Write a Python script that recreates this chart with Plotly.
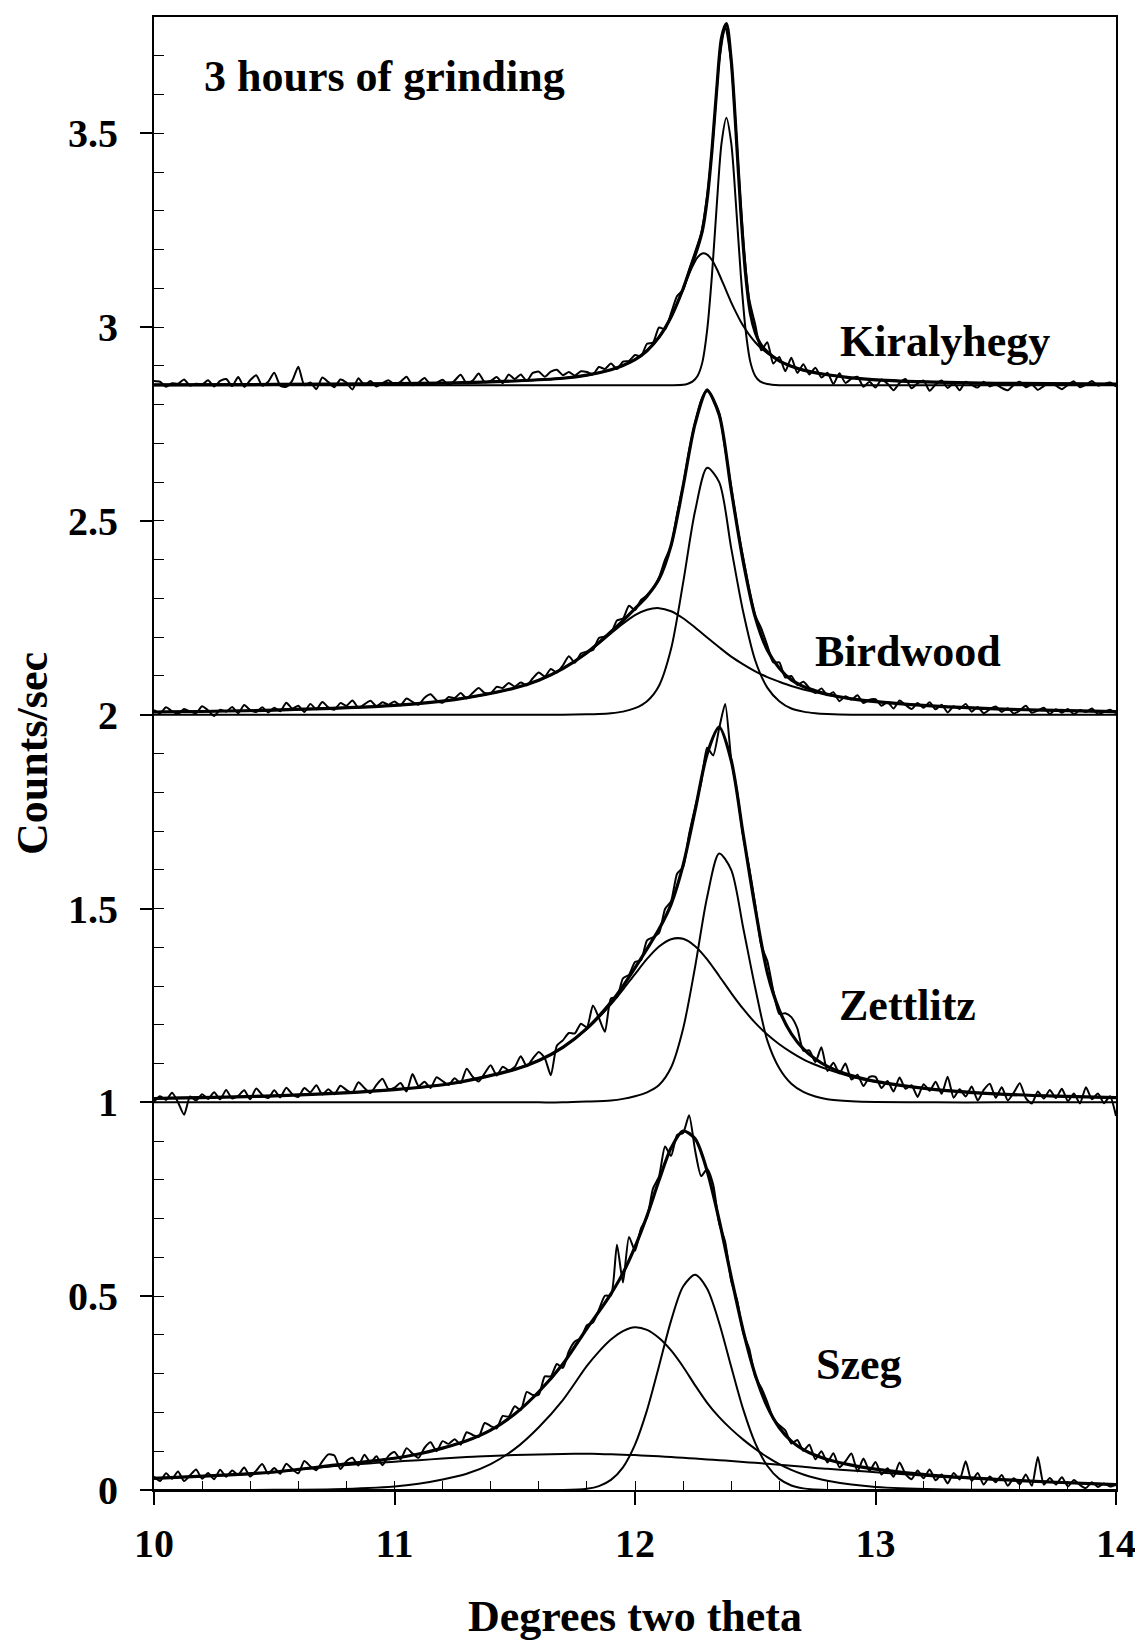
import plotly.graph_objects as go

# ---------------- measured (noisy) data, x step 0.025 deg ----------------
DATA_X = [round(10 + 0.025 * i, 3) for i in range(161)]

KIRALYHEGY_DATA = [
    2.861, 2.859, 2.846, 2.855, 2.854, 2.865, 2.849, 2.854, 2.852, 2.863,
    2.847, 2.861, 2.866, 2.848, 2.871, 2.846, 2.863, 2.876, 2.849, 2.859,
    2.882, 2.849, 2.846, 2.862, 2.898, 2.850, 2.857, 2.840, 2.870, 2.858,
    2.845, 2.865, 2.857, 2.839, 2.868, 2.850, 2.861, 2.847, 2.855, 2.863,
    2.852, 2.859, 2.872, 2.850, 2.857, 2.869, 2.852, 2.856, 2.864, 2.851,
    2.862, 2.877, 2.855, 2.862, 2.880, 2.858, 2.861, 2.871, 2.855, 2.878,
    2.866, 2.878, 2.861, 2.882, 2.885, 2.872, 2.885, 2.890, 2.876, 2.884,
    2.875, 2.886, 2.884, 2.878, 2.897, 2.892, 2.906, 2.892, 2.911, 2.913,
    2.928, 2.925, 2.957, 2.960, 2.999, 2.994, 3.036, 3.080, 3.096, 3.148,
    3.194, 3.242, 3.339, 3.491, 3.684, 3.776, 3.684, 3.458, 3.225, 3.072,
    3.006, 2.940, 2.961, 2.906, 2.923, 2.886, 2.921, 2.882, 2.904, 2.878,
    2.895, 2.870, 2.882, 2.853, 2.881, 2.856, 2.867, 2.872, 2.846, 2.859,
    2.844, 2.865, 2.854, 2.837, 2.856, 2.866, 2.842, 2.855, 2.862, 2.836,
    2.852, 2.862, 2.843, 2.856, 2.837, 2.859, 2.851, 2.844, 2.859, 2.847,
    2.852, 2.843, 2.837, 2.851, 2.859, 2.845, 2.852, 2.838, 2.848, 2.856,
    2.849, 2.840, 2.851, 2.860, 2.845, 2.851, 2.861, 2.849, 2.853, 2.857, 2.847,
]

BIRDWOOD_DATA = [
    2.012, 2.004, 2.019, 2.009, 2.002, 2.015, 2.008, 2.004, 2.022, 2.011,
    1.997, 2.013, 2.008, 2.020, 2.004, 2.025, 2.012, 2.007, 2.019, 2.006,
    2.018, 2.009, 2.031, 2.016, 2.023, 2.007, 2.028, 2.014, 2.033, 2.019,
    2.013, 2.030, 2.023, 2.037, 2.018, 2.027, 2.036, 2.022, 2.032, 2.026,
    2.034, 2.024, 2.042, 2.033, 2.026, 2.044, 2.053, 2.037, 2.031, 2.046,
    2.043, 2.056, 2.042, 2.056, 2.069, 2.056, 2.055, 2.072, 2.069, 2.082,
    2.073, 2.083, 2.076, 2.094, 2.109, 2.099, 2.118, 2.109, 2.127, 2.151,
    2.134, 2.158, 2.163, 2.167, 2.198, 2.202, 2.210, 2.243, 2.248, 2.281,
    2.270, 2.296, 2.308, 2.325, 2.354, 2.400, 2.435, 2.518, 2.592, 2.682,
    2.754, 2.811, 2.840, 2.814, 2.779, 2.686, 2.588, 2.488, 2.405, 2.323,
    2.256, 2.223, 2.179, 2.135, 2.135, 2.096, 2.100, 2.077, 2.085, 2.069,
    2.056, 2.068, 2.050, 2.058, 2.035, 2.048, 2.039, 2.050, 2.030, 2.039,
    2.040, 2.023, 2.033, 2.016, 2.037, 2.025, 2.015, 2.030, 2.018, 2.032,
    2.014, 2.026, 2.006, 2.022, 2.015, 2.028, 2.008, 2.020, 2.004, 2.014,
    2.021, 2.007, 2.017, 2.003, 2.011, 2.023, 2.005, 2.011, 2.018, 2.002,
    2.014, 2.005, 2.015, 2.001, 2.012, 2.007, 2.016, 2.001, 2.007, 2.013, 2.004,
]

ZETTLITZ_DATA = [
    1.002, 1.016, 1.006, 1.025, 1.000, 0.968, 1.015, 1.005, 1.021, 1.009,
    1.026, 1.008, 1.032, 1.010, 1.017, 1.031, 1.008, 1.036, 1.019, 1.011,
    1.031, 1.013, 1.038, 1.021, 1.014, 1.037, 1.026, 1.044, 1.020, 1.034,
    1.021, 1.043, 1.032, 1.025, 1.052, 1.037, 1.024, 1.045, 1.061, 1.034,
    1.038, 1.050, 1.028, 1.073, 1.042, 1.053, 1.037, 1.065, 1.055, 1.045,
    1.062, 1.050, 1.087, 1.066, 1.054, 1.075, 1.096, 1.069, 1.092, 1.083,
    1.091, 1.119, 1.093, 1.113, 1.130, 1.114, 1.070, 1.146, 1.160, 1.179,
    1.178, 1.203, 1.194, 1.250, 1.218, 1.182, 1.268, 1.271, 1.320, 1.329,
    1.362, 1.367, 1.418, 1.426, 1.437, 1.499, 1.519, 1.590, 1.607, 1.692,
    1.761, 1.825, 1.915, 1.895, 1.965, 2.028, 1.885, 1.800, 1.685, 1.605,
    1.510, 1.405, 1.365, 1.288, 1.228, 1.230, 1.220, 1.191, 1.133, 1.134,
    1.104, 1.142, 1.081, 1.102, 1.075, 1.100, 1.059, 1.071, 1.042, 1.066,
    1.066, 1.037, 1.055, 1.028, 1.064, 1.035, 1.044, 1.014, 1.047, 1.030,
    1.053, 1.022, 1.066, 1.012, 1.034, 1.015, 1.041, 1.005, 1.032, 1.048,
    1.012, 1.039, 1.005, 1.025, 1.049, 1.011, 0.997, 1.028, 1.010, 1.032,
    1.011, 1.035, 1.003, 1.023, 0.997, 1.039, 1.008, 1.023, 0.998, 1.016, 0.965,
]

SZEG_DATA = [
    0.035, 0.023, 0.043, 0.029, 0.048, 0.023, 0.038, 0.053, 0.029, 0.044,
    0.028, 0.052, 0.034, 0.050, 0.039, 0.058, 0.035, 0.050, 0.067, 0.042,
    0.057, 0.042, 0.068, 0.054, 0.043, 0.075, 0.061, 0.051, 0.074, 0.092,
    0.089, 0.054, 0.074, 0.083, 0.063, 0.091, 0.071, 0.087, 0.064, 0.088,
    0.098, 0.079, 0.108, 0.094, 0.083, 0.109, 0.123, 0.100, 0.126, 0.119,
    0.131, 0.117, 0.149, 0.142, 0.137, 0.173, 0.165, 0.159, 0.191, 0.189,
    0.216, 0.206, 0.253, 0.245, 0.246, 0.293, 0.293, 0.325, 0.315, 0.358,
    0.383, 0.392, 0.425, 0.432, 0.465, 0.501, 0.502, 0.633, 0.535, 0.653,
    0.617, 0.675, 0.703, 0.778, 0.809, 0.886, 0.862, 0.916, 0.921, 0.967,
    0.876, 0.810, 0.828, 0.788, 0.688, 0.640, 0.540, 0.488, 0.406, 0.364,
    0.292, 0.264, 0.227, 0.184, 0.167, 0.154, 0.120, 0.129, 0.101, 0.117,
    0.079, 0.100, 0.071, 0.095, 0.059, 0.074, 0.094, 0.048, 0.081, 0.049,
    0.072, 0.040, 0.056, 0.034, 0.071, 0.041, 0.028, 0.050, 0.030, 0.053,
    0.025, 0.040, 0.017, 0.044, 0.027, 0.074, 0.023, 0.044, 0.014, 0.035,
    0.020, 0.039, 0.011, 0.030, 0.015, 0.040, 0.011, 0.085, 0.014, 0.031,
    0.014, 0.033, 0.009, 0.026, 0.013, 0.005, 0.020, 0.008, 0.017, 0.009, 0.014,
]

# ---------------- fitted curves ----------------
KIR_FX = [10.0, 10.5, 11.0, 11.25, 11.5, 11.7, 11.8, 11.9, 11.95, 12.0, 12.05, 12.1,
          12.15, 12.2, 12.22, 12.24, 12.26, 12.28, 12.3, 12.32, 12.34, 12.36, 12.38,
          12.4, 12.42, 12.44, 12.46, 12.48, 12.5, 12.52, 12.55, 12.6, 12.65, 12.7,
          12.8, 12.9, 13.0, 13.25, 13.5, 14.0]
KIR_BROAD = [2.851, 2.852, 2.854, 2.856, 2.861, 2.868, 2.876, 2.890, 2.901, 2.916,
             2.939, 2.974, 3.026, 3.098, 3.130, 3.158, 3.180, 3.190, 3.187, 3.173,
             3.150, 3.122, 3.093, 3.064, 3.038, 3.014, 2.994, 2.976, 2.961, 2.948,
             2.933, 2.913, 2.899, 2.889, 2.877, 2.869, 2.864, 2.858, 2.855, 2.853]
KIR_NARROW = [2.85, 2.85, 2.85, 2.85, 2.85, 2.85, 2.85, 2.85, 2.85, 2.85, 2.85, 2.85,
              2.85, 2.851, 2.854, 2.860, 2.874, 2.909, 2.992, 3.134, 3.315, 3.475,
              3.540, 3.475, 3.315, 3.134, 2.992, 2.909, 2.874, 2.860, 2.853, 2.85,
              2.85, 2.85, 2.85, 2.85, 2.85, 2.85, 2.85, 2.85]
KIR_TOTAL = [2.851, 2.852, 2.854, 2.856, 2.861, 2.868, 2.876, 2.890, 2.901, 2.916,
             2.939, 2.974, 3.026, 3.099, 3.134, 3.168, 3.204, 3.248, 3.329, 3.456,
             3.615, 3.747, 3.783, 3.689, 3.503, 3.298, 3.136, 3.035, 2.986, 2.958,
             2.936, 2.913, 2.899, 2.889, 2.877, 2.869, 2.864, 2.858, 2.855, 2.853]

BIRD_FX = [10.0, 10.5, 11.0, 11.25, 11.5, 11.6, 11.7, 11.8, 11.85, 11.9, 11.95, 12.0,
           12.05, 12.1, 12.15, 12.2, 12.25, 12.3, 12.35, 12.4, 12.45, 12.5, 12.55,
           12.6, 12.65, 12.7, 12.75, 12.8, 12.9, 13.0, 13.25, 13.5, 13.75, 14.0]
BIRD_BROAD = [2.007, 2.012, 2.024, 2.039, 2.069, 2.089, 2.119, 2.159, 2.184, 2.210,
              2.235, 2.257, 2.271, 2.275, 2.267, 2.249, 2.225, 2.199, 2.174, 2.150,
              2.130, 2.112, 2.097, 2.085, 2.074, 2.065, 2.058, 2.051, 2.041, 2.034,
              2.022, 2.015, 2.011, 2.008]
BIRD_NARROW = [2.0, 2.0, 2.0, 2.0, 2.0, 2.0, 2.0, 2.001, 2.002, 2.004, 2.008, 2.017,
               2.035, 2.075, 2.170, 2.340, 2.526, 2.637, 2.600, 2.430, 2.265, 2.140,
               2.070, 2.035, 2.016, 2.008, 2.004, 2.002, 2.0, 2.0, 2.0, 2.0, 2.0, 2.0]
BIRD_TOTAL = [2.007, 2.012, 2.024, 2.039, 2.069, 2.089, 2.119, 2.160, 2.186, 2.214,
              2.243, 2.274, 2.306, 2.350, 2.437, 2.589, 2.751, 2.836, 2.774, 2.580,
              2.395, 2.252, 2.167, 2.120, 2.090, 2.073, 2.062, 2.053, 2.041, 2.034,
              2.022, 2.015, 2.011, 2.008]

ZETT_FX = [10.0, 10.5, 11.0, 11.25, 11.5, 11.6, 11.7, 11.8, 11.9, 11.95, 12.0, 12.05,
           12.1, 12.15, 12.2, 12.25, 12.3, 12.35, 12.4, 12.45, 12.5, 12.55, 12.6,
           12.65, 12.7, 12.75, 12.8, 12.9, 13.0, 13.25, 13.5, 13.75, 14.0]
ZETT_BROAD = [1.010, 1.017, 1.033, 1.050, 1.085, 1.108, 1.142, 1.189, 1.253, 1.291,
              1.331, 1.370, 1.402, 1.421, 1.422, 1.403, 1.369, 1.326, 1.282, 1.241,
              1.205, 1.175, 1.150, 1.129, 1.111, 1.097, 1.085, 1.066, 1.053, 1.033,
              1.022, 1.016, 1.012]
ZETT_NARROW = [1.0, 1.0, 1.0, 1.0, 1.0, 1.0, 1.0, 1.002, 1.005, 1.009, 1.016, 1.026,
               1.045, 1.090, 1.190, 1.350, 1.530, 1.642, 1.600, 1.450, 1.295, 1.160,
               1.088, 1.048, 1.027, 1.015, 1.008, 1.003, 1.001, 1.0, 1.0, 1.0, 1.0]
ZETT_TOTAL = [1.010, 1.017, 1.033, 1.050, 1.085, 1.108, 1.142, 1.191, 1.258, 1.300,
              1.347, 1.396, 1.447, 1.511, 1.612, 1.753, 1.899, 1.968, 1.882, 1.691,
              1.500, 1.335, 1.238, 1.177, 1.138, 1.112, 1.093, 1.069, 1.054, 1.033,
              1.022, 1.016, 1.012]

SZEG_FX = [10.0, 10.25, 10.5, 10.75, 11.0, 11.1, 11.2, 11.3, 11.4, 11.5, 11.6, 11.7,
           11.8, 11.85, 11.9, 11.95, 12.0, 12.05, 12.1, 12.15, 12.2, 12.25, 12.3,
           12.35, 12.4, 12.45, 12.5, 12.55, 12.6, 12.65, 12.7, 12.75, 12.8, 12.9,
           13.0, 13.25, 13.5, 13.75, 14.0]
SZEG_WIDE = [0.030, 0.037, 0.046, 0.062, 0.073, 0.077, 0.081, 0.085, 0.0875, 0.090,
             0.0915, 0.093, 0.0933, 0.093, 0.092, 0.091, 0.090, 0.0885, 0.087, 0.085,
             0.083, 0.081, 0.079, 0.077, 0.075, 0.0725, 0.070, 0.0675, 0.065, 0.0625,
             0.060, 0.057, 0.0548, 0.050, 0.046, 0.035, 0.027, 0.020, 0.014]
SZEG_MID = [0.0, 0.0, 0.0005, 0.002, 0.009, 0.016, 0.027, 0.042, 0.067, 0.106, 0.162,
            0.232, 0.320, 0.357, 0.388, 0.410, 0.420, 0.413, 0.392, 0.360, 0.318,
            0.270, 0.225, 0.188, 0.157, 0.130, 0.106, 0.085, 0.067, 0.052, 0.040,
            0.031, 0.024, 0.014, 0.008, 0.002, 0.0005, 0.0, 0.0]
SZEG_NARROW = [0.0, 0.0, 0.0, 0.0, 0.0, 0.0, 0.0, 0.0, 0.0, 0.0, 0.0, 0.0, 0.0034,
               0.010, 0.026, 0.0585, 0.117, 0.206, 0.320, 0.437, 0.525, 0.555, 0.519,
               0.431, 0.318, 0.208, 0.121, 0.0625, 0.0287, 0.0117, 0.0042, 0.0014,
               0.0, 0.0, 0.0, 0.0, 0.0, 0.0, 0.0]
SZEG_TOTAL = [0.030, 0.037, 0.0465, 0.064, 0.082, 0.093, 0.108, 0.127, 0.1545, 0.196,
              0.2535, 0.325, 0.4167, 0.460, 0.506, 0.5595, 0.627, 0.7075, 0.799,
              0.882, 0.926, 0.906, 0.823, 0.696, 0.550, 0.4105, 0.297, 0.215, 0.1607,
              0.1262, 0.1042, 0.0894, 0.0788, 0.064, 0.054, 0.037, 0.0275, 0.020, 0.014]

# ---------------- labels ----------------
X_TICKS = [10, 11, 12, 13, 14]
Y_TICKS = [0, 0.5, 1, 1.5, 2, 2.5, 3, 3.5]
Y_TICK_TEXT = ["0", "0.5", "1", "1.5", "2", "2.5", "3", "3.5"]
SAMPLE_NAMES = ["Kiralyhegy", "Birdwood", "Zettlitz", "Szeg"]

panels = [
    (KIRALYHEGY_DATA, KIR_FX, [KIR_BROAD, KIR_NARROW], KIR_TOTAL),
    (BIRDWOOD_DATA, BIRD_FX, [BIRD_BROAD, BIRD_NARROW], BIRD_TOTAL),
    (ZETTLITZ_DATA, ZETT_FX, [ZETT_BROAD, ZETT_NARROW], ZETT_TOTAL),
    (SZEG_DATA, SZEG_FX, [SZEG_WIDE, SZEG_MID, SZEG_NARROW], SZEG_TOTAL),
]

for d, fx, comps, tot in panels:
    assert len(d) == len(DATA_X)
    assert len(tot) == len(fx)
    for c in comps:
        assert len(c) == len(fx)

fig = go.Figure()
BLACK = "black"
for name, (d, fx, comps, tot) in zip(SAMPLE_NAMES, panels):
    fig.add_trace(go.Scatter(x=DATA_X, y=d, mode="lines", name=name + " data",
                             line=dict(color=BLACK, width=2.0, shape="spline", smoothing=0.6)))
    for c in comps:
        fig.add_trace(go.Scatter(x=fx, y=c, mode="lines", name=name + " component",
                                 line=dict(color=BLACK, width=2.0, shape="spline", smoothing=0.8)))
    fig.add_trace(go.Scatter(x=fx, y=tot, mode="lines", name=name + " fit",
                             line=dict(color=BLACK, width=3.2, shape="spline", smoothing=0.8)))

# helper trace for the inner (minor) tick axes
fig.add_trace(go.Scatter(x=[None], y=[None], xaxis="x2", yaxis="y2", showlegend=False,
                         hoverinfo="skip"))

FONT = "Liberation Serif, Times New Roman, serif"
# the page body adds an 8px offset, so the figure is 8px smaller than the window
fig.update_layout(
    width=1135, height=1638,
    margin=dict(l=146, r=25, t=7, b=156),
    plot_bgcolor="white", paper_bgcolor="white",
    showlegend=False,
    font=dict(family=FONT, color=BLACK),
    xaxis=dict(range=[10, 14], tickvals=X_TICKS, ticks="outside", ticklen=13,
               tickwidth=1.5, tickcolor=BLACK, showline=True, linewidth=2,
               linecolor=BLACK, mirror=True, showgrid=False, zeroline=False,
               tickfont=dict(family=FONT, size=40, weight="bold", color=BLACK),
               ticklabelstandoff=4,
               title=dict(text="Degrees two theta", standoff=35,
                          font=dict(family=FONT, size=44, weight="bold", color=BLACK))),
    yaxis=dict(range=[0, 3.8], tickvals=Y_TICKS, ticktext=Y_TICK_TEXT, ticks="outside",
               ticklen=12, tickwidth=1.5, tickcolor=BLACK, showline=True, linewidth=2,
               linecolor=BLACK, mirror=True, showgrid=False, zeroline=False,
               tickfont=dict(family=FONT, size=40, weight="bold", color=BLACK),
               ticklabelstandoff=14,
               title=dict(text="Counts/sec", standoff=22,
                          font=dict(family=FONT, size=44, weight="bold", color=BLACK))),
    xaxis2=dict(overlaying="x", anchor="y", side="bottom", range=[10, 14], tick0=10,
                dtick=0.2, ticks="inside", ticklen=9, tickwidth=1.2, tickcolor=BLACK,
                showticklabels=False, showline=False, showgrid=False, zeroline=False),
    yaxis2=dict(overlaying="y", anchor="x", side="left", range=[0, 3.8], tick0=0,
                dtick=0.1, ticks="inside", ticklen=10, tickwidth=1.2, tickcolor=BLACK,
                showticklabels=False, showline=False, showgrid=False, zeroline=False),
)

ann_font = dict(family=FONT, size=44, weight="bold", color=BLACK)
fig.add_annotation(x=10.2, y=3.647, xref="x", yref="y", text="3 hours of grinding",
                   showarrow=False, xanchor="left", yanchor="middle", font=ann_font)
label_pos = [(13.287, 2.962), (13.137, 2.164), (13.134, 1.25), (12.933, 0.323)]
for name, (lx, ly) in zip(SAMPLE_NAMES, label_pos):
    fig.add_annotation(x=lx, y=ly, xref="x", yref="y", text=name, showarrow=False,
                       xanchor="center", yanchor="middle", font=ann_font)

fig.write_html("out.html")
